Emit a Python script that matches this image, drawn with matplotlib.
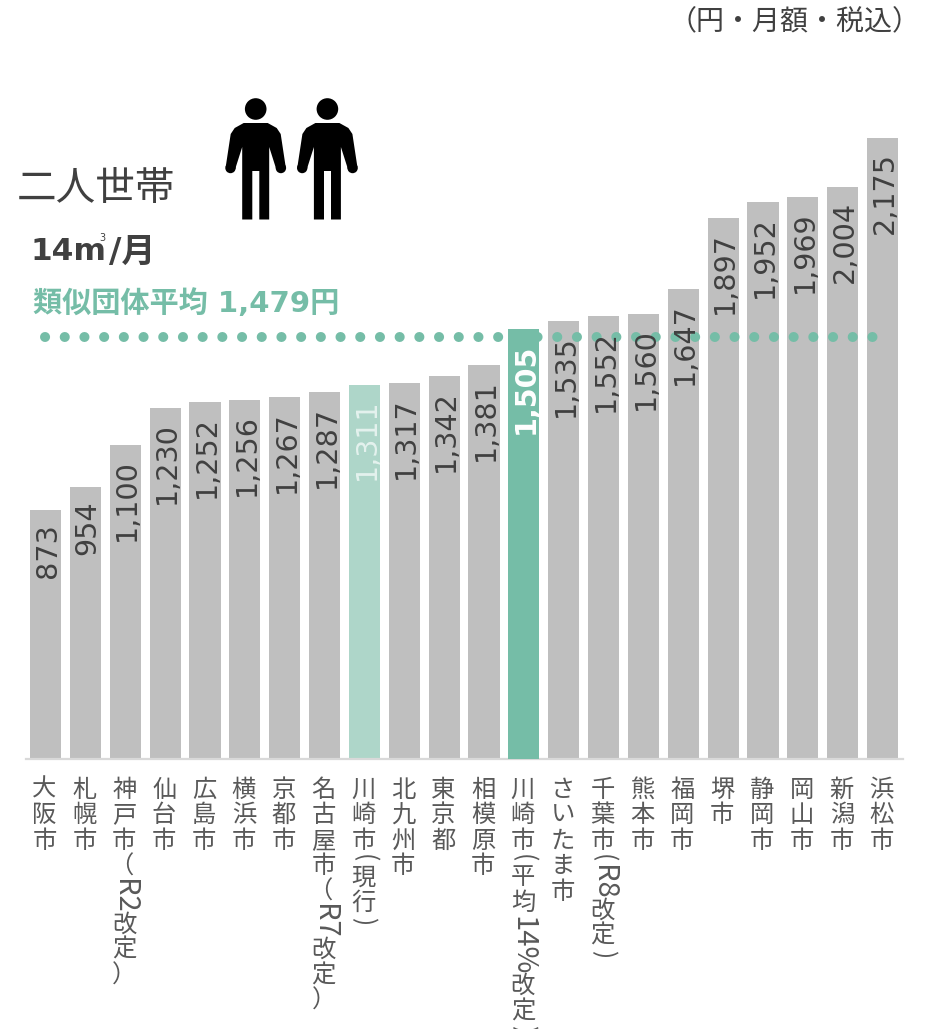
import matplotlib
matplotlib.use("Agg")
import matplotlib.pyplot as plt
from matplotlib.patches import Circle, Polygon

# Data
cities = ["大阪市", "札幌市", "神戸市（R2改定）", "仙台市", "広島市", "横浜市", "京都市", "名古屋市（R7改定）",
          "川崎市(現行)", "北九州市", "東京都", "相模原市", "川崎市(平均14%改定)", "さいたま市", "千葉市(R8改定)",
          "熊本市", "福岡市", "堺市", "静岡市", "岡山市", "新潟市", "浜松市"]
charges = [873, 954, 1100, 1230, 1252, 1256, 1267, 1287, 1311, 1317, 1342, 1381, 1505, 1535, 1552, 1560, 1647,
           1897, 1952, 1969, 2004, 2175]
average = 1479
current_idx = 8
revised_idx = 12

GREY = "#BFBFBF"
TEAL = "#75BDA7"
LIGHT_TEAL = "#AED6C9"
DARK = "#404040"
LABEL = "#595959"
CJK = "Noto Sans CJK JP"

W, H = 926, 1029
fig = plt.figure(figsize=(W / 100, H / 100), dpi=100)

# main axes placed on the pixel grid of the reference
left, right, base, top = 25.6, 902.5, 758.5, 100
ax = fig.add_axes([left / W, 1 - base / H, (right - left) / W, (base - top) / H])
ax.patch.set_alpha(0)
ax.set_xlim(-0.5, len(cities) - 0.5)
ax.set_ylim(0, (base - top) / 0.2851)

colors = [GREY] * len(cities)
colors[current_idx] = LIGHT_TEAL
colors[revised_idx] = TEAL
bars = ax.bar(range(len(cities)), charges, width=0.78, color=colors, zorder=2)
bars[revised_idx].set_zorder(4)

# average dots: hidden behind the highlighted bar only
ax.plot([-0.01, 20.76], [average, average], color=TEAL, lw=7.2, linestyle=(0, (0.01, 1.96)),
        dash_capstyle="round", zorder=3)

for i, v in enumerate(charges):
    is_rev = i == revised_idx
    color = "white" if is_rev else ("#E4F2EE" if i == current_idx else DARK)
    ax.annotate(f"{v:,}", (i, v), xytext=(2, -14), textcoords="offset pixels", rotation=90, ha="center", va="top",
                fontsize=20.6, color=color, fontweight="bold" if is_rev else "normal", family="DejaVu Sans", zorder=5)

for s in ["top", "right", "left"]:
    ax.spines[s].set_visible(False)
ax.spines["bottom"].set_color("#D9D9D9")
ax.spines["bottom"].set_linewidth(1.6)
ax.set_xticks(range(len(cities)))
ax.set_xticklabels([])
ax.set_yticks([])
ax.tick_params(axis="x", length=0)

# overlay in pixel coordinates for texts and pictogram
ov = fig.add_axes([0, 0, 1, 1], zorder=10)
ov.set_xlim(0, W)
ov.set_ylim(H, 0)
ov.axis("off")


def person(cx):
    pts = [(-12, 123), (12, 123), (21, 128), (25, 134), (30, 167), (20.5, 169), (13.5, 147), (13.5, 219.5),
           (3.6, 219.5), (3.6, 171), (-3.4, 171), (-3.4, 219.5), (-13.5, 219.5), (-13.5, 147), (-20.5, 169),
           (-30, 167), (-25, 134), (-21, 128)]
    ov.add_patch(Polygon([(cx + x, y) for x, y in pts], closed=True, color="black", lw=0))
    ov.add_patch(Circle((cx, 109), 10.8, color="black", lw=0))
    ov.add_patch(Circle((cx - 25.2, 168), 5.2, color="black", lw=0))
    ov.add_patch(Circle((cx + 25.2, 168), 5.2, color="black", lw=0))


person(255.7)
person(327.4)

ov.text(921, 21, "（円・月額・税込）", fontsize=20.2, family=CJK, color=DARK, ha="right", va="center")
ov.text(17, 189, "二人世帯", fontsize=28.5, family=CJK, color=DARK, ha="left", va="center")
ov.text(30, 252, "14m", fontsize=22.5, family="DejaVu Sans", fontweight="bold", color=DARK, ha="left", va="center")
ov.text(102, 238, "3", fontsize=7, family="DejaVu Sans", color=DARK, ha="center", va="center")
ov.text(109, 252, "/月", fontsize=24.5, family=["DejaVu Sans", CJK], fontweight="bold", color=DARK, ha="left", va="center")
ov.text(33, 304, "類似団体平均 1,479円", fontsize=21, family=["DejaVu Sans", CJK], fontweight="bold", color=TEAL,
        ha="left", va="center")

# vertical category labels: upright kanji stacked, latin runs turned sideways
renderer = fig.canvas.get_renderer()
CELL = 25.5


def vertical_label(cx, y, label):
    i = 0
    while i < len(label):
        ch = label[i]
        if ch in "()":
            t = ov.text(cx, y + 1, ch, fontsize=17.5, family=CJK, color=LABEL, rotation=-90, ha="center", va="top")
            y += t.get_window_extent(renderer).height + 3
            i += 1
        elif ch.isascii():
            j = i
            while j < len(label) and label[j].isascii() and label[j] not in "()":
                j += 1
            t = ov.text(cx, y, label[i:j], fontsize=21, family=CJK, color=LABEL, rotation=-90, ha="center", va="top")
            y += t.get_window_extent(renderer).height - 2
            i = j
        elif ch in "（）":
            # full-width brackets stay upright, ink off to one side of the column
            dx = -3 if ch == "（" else 0
            ov.text(cx + dx, y + CELL / 2, ch, fontsize=17.5, family=CJK, color=LABEL, ha="center", va="center")
            y += CELL
            i += 1
        else:
            ov.text(cx, y + CELL / 2, ch, fontsize=17.5, family=CJK, color=LABEL, ha="center", va="center")
            y += CELL
            i += 1


for i, city in enumerate(cities):
    cx = ax.transData.transform((i, 0))[0] - 1
    vertical_label(cx, 777, city)

fig.savefig("out.png", dpi=100)
